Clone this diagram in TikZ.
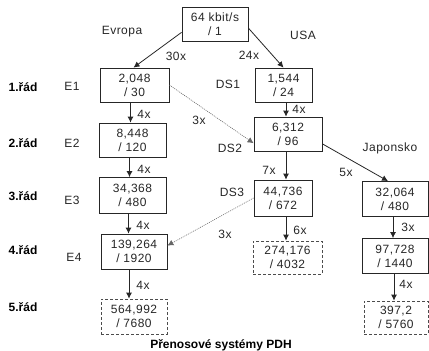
\documentclass[tikz,border=0pt]{standalone}
\usepackage{fontspec}
\setmainfont{Liberation Sans}
\usetikzlibrary{arrows.meta}
\begin{document}
\begin{tikzpicture}[x=1pt,y=-1pt,
  box/.style={draw=black!85, line width=0.8pt, inner sep=0pt, align=center, text=black!85,
    font=\fontsize{12}{14}\selectfont\addfontfeatures{LetterSpace=4}, minimum height=34pt},
  dbox/.style={box, dashed, dash pattern=on 3pt off 2pt, draw=black!70},
  lbl/.style={inner sep=0pt, text=black!85, font=\fontsize{12}{14}\selectfont\addfontfeatures{LetterSpace=4}},
  rowlbl/.style={inner sep=0pt, font=\fontsize{12}{14}\selectfont\bfseries},
  arr/.style={draw=black!85, line width=0.8pt, -{Latex[length=6pt,width=6pt]}},
  darr/.style={draw=black!60, line width=0.6pt, dash pattern=on 1pt off 1pt, -{Latex[length=6pt,width=6pt]}}]
\useasboundingbox (0,0) rectangle (429,351);
% boxes
\node[box, minimum width=66pt] (top) at (215,24) {64 kbit/s\\/ 1};
\node[box, minimum width=69pt] (E1) at (134.5,85) {2,048\\/ 30};
\node[box, minimum width=67pt] (E2) at (132.5,140) {8,448\\/ 120};
\node[box, minimum width=67pt, minimum height=36pt] (E3) at (132.5,195.5) {34,368\\/ 480};
\node[box, minimum width=66pt, minimum height=35pt] (E4) at (134,251.5) {139,264\\/ 1920};
\node[dbox, minimum width=66pt, minimum height=35pt] (E5) at (134,316.5) {564,992\\/ 7680};
\node[box, minimum width=57pt] (DS1) at (283.5,85) {1,544\\/ 24};
\node[box, minimum width=68pt] (DS2) at (288,134) {6,312\\/ 96};
\node[box, minimum width=58pt, minimum height=36pt] (DS3) at (283,198) {44,736\\/ 672};
\node[dbox, minimum width=69pt, minimum height=33pt] (DS4) at (287.5,257.5) {274,176\\/ 4032};
\node[box, minimum width=66pt, minimum height=35pt] (J1) at (395,199) {32,064\\/ 480};
\node[box, minimum width=66pt, minimum height=35pt] (J2) at (395,256) {97,728\\/ 1440};
\node[dbox, minimum width=64pt, minimum height=33pt] (J3) at (396,317.5) {397,2\\/ 5760};
% connectors
\draw[arr] (top.194) -- ([xshift=-1pt]E1.north);
\draw[arr] (top.-7) -- (DS1.north);
\draw[arr] ([xshift=-4pt]E1.south) -- ([xshift=-4pt]E1.south |- E2.north);
\draw[arr] ([xshift=-3pt]E2.south) -- ([xshift=-3pt]E2.south |- E3.north);
\draw[arr] ([xshift=-4pt]E3.south) -- ([xshift=-4pt]E3.south |- E4.north);
\draw[arr] ([xshift=-5pt]E4.south) -- ([xshift=-5pt]E4.south |- E5.north);
\draw[arr] ([xshift=2.5pt]DS1.south) -- ([xshift=2.5pt]DS1.south |- DS2.north);
\draw[arr] ([xshift=-2pt]DS2.south) -- ([xshift=-2pt]DS2.south |- DS3.north);
\draw[arr] ([xshift=3pt]DS3.south) -- ([xshift=3pt]DS3.south |- DS4.north);
\draw[arr] ([xshift=-2pt]J1.south) -- ([xshift=-2pt]J1.south |- J2.north);
\draw[arr] ([xshift=-1pt]J2.south) -- ([xshift=-1pt]J2.south |- J3.north);
\draw[arr] (DS2.-16) -- ([xshift=-7pt]J1.north);
\draw[darr] (E1.east) -- (DS2.195);
\draw[darr] (DS3.west) -- (E4.10);
% labels
\node[lbl] (evropa) at (122,32) {Evropa};
\node[lbl] (usa) at (303,35) {USA};
\node[lbl] (japonsko) at (390,148) {Japonsko};
\node[lbl] (m30) at (176,56) {30x};
\node[lbl] (m24) at (249,55) {24x};
\node[lbl] (m3a) at (199,120) {3x};
\node[lbl] (m4a) at (144,114) {4x};
\node[lbl] (m4b) at (144,169) {4x};
\node[lbl] (m4c) at (143,225) {4x};
\node[lbl] (m4d) at (143,285) {4x};
\node[lbl] (m4e) at (299,109) {4x};
\node[lbl] (m7) at (269,170) {7x};
\node[lbl] (m5) at (346,172) {5x};
\node[lbl] (m3b) at (225,234) {3x};
\node[lbl] (m6) at (300,230) {6x};
\node[lbl] (m3c) at (408,227) {3x};
\node[lbl] (m4f) at (406,284) {4x};
\node[lbl] (lE1) at (72,86) {E1};
\node[lbl] (lE2) at (72,143) {E2};
\node[lbl] (lE3) at (72,200) {E3};
\node[lbl] (lE4) at (74,257) {E4};
\node[lbl] (lDS1) at (228,84) {DS1};
\node[lbl] (lDS2) at (230,148) {DS2};
\node[lbl] (lDS3) at (232,192) {DS3};
\node[rowlbl] (r1) at (23,87) {1.řád};
\node[rowlbl] (r2) at (23,143) {2.řád};
\node[rowlbl] (r3) at (23,196) {3.řád};
\node[rowlbl] (r4) at (23,250) {4.řád};
\node[rowlbl] (r5) at (23,307) {5.řád};
\node[rowlbl] (caption) at (221,345) {Přenosové systémy PDH};
\end{tikzpicture}
\end{document}
